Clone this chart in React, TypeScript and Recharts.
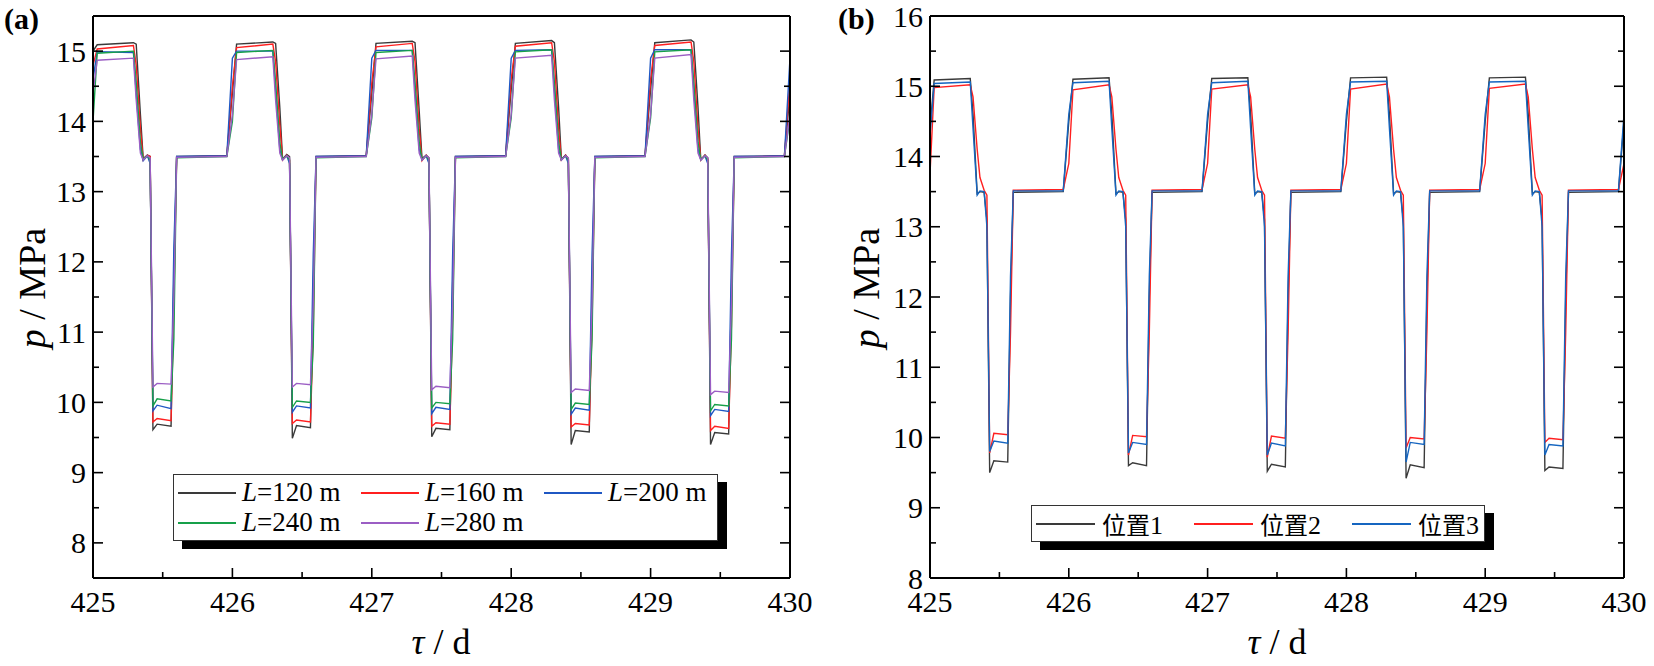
import React from 'react';
import { LineChart, Line, XAxis, YAxis } from 'recharts';

// time grid shared by both panels (days)
const TIME = [
  425.00, 425.03, 425.29, 425.31, 425.34, 425.36, 425.39, 425.41, 425.43, 425.46, 425.56, 425.58, 425.60, 425.96,
  426.00, 426.03, 426.29, 426.31, 426.34, 426.36, 426.39, 426.41, 426.43, 426.46, 426.56, 426.58, 426.60, 426.96,
  427.00, 427.03, 427.29, 427.31, 427.34, 427.36, 427.39, 427.41, 427.43, 427.46, 427.56, 427.58, 427.60, 427.96,
  428.00, 428.03, 428.29, 428.31, 428.34, 428.36, 428.39, 428.41, 428.43, 428.46, 428.56, 428.58, 428.60, 428.96,
  429.00, 429.03, 429.29, 429.31, 429.34, 429.36, 429.39, 429.41, 429.43, 429.46, 429.56, 429.58, 429.60, 429.96,
  430.00,
];

// panel (a): pressure for different lengths L
const L120 = [
  15.00, 15.09, 15.12, 15.10, 14.10, 13.47, 13.52, 13.50, 9.61, 9.69, 9.66, 11.80, 13.50, 13.51,
  14.40, 15.10, 15.13, 15.11, 14.20, 13.46, 13.53, 13.50, 9.49, 9.67, 9.64, 11.60, 13.50, 13.51,
  14.40, 15.11, 15.14, 15.12, 14.15, 13.47, 13.52, 13.48, 9.51, 9.63, 9.61, 11.70, 13.50, 13.51,
  14.45, 15.11, 15.15, 15.12, 14.20, 13.46, 13.52, 13.47, 9.40, 9.60, 9.58, 11.60, 13.50, 13.51,
  14.45, 15.12, 15.16, 15.13, 14.20, 13.45, 13.52, 13.48, 9.40, 9.57, 9.55, 11.60, 13.50, 13.51,
  14.40,
];
const L160 = [
  14.80, 15.03, 15.08, 14.80, 13.90, 13.45, 13.52, 13.50, 9.72, 9.77, 9.74, 11.40, 13.49, 13.51,
  14.50, 15.05, 15.10, 14.85, 13.95, 13.45, 13.52, 13.45, 9.70, 9.75, 9.72, 11.00, 13.49, 13.51,
  14.55, 15.06, 15.11, 14.85, 13.90, 13.44, 13.52, 13.46, 9.66, 9.71, 9.69, 11.20, 13.49, 13.51,
  14.60, 15.07, 15.12, 14.85, 13.90, 13.45, 13.52, 13.46, 9.65, 9.70, 9.68, 11.10, 13.49, 13.51,
  14.60, 15.08, 15.13, 14.85, 13.90, 13.45, 13.52, 13.46, 9.60, 9.66, 9.63, 11.10, 13.49, 13.51,
  14.60,
];
const L200 = [
  14.60, 14.99, 14.98, 14.40, 13.60, 13.44, 13.51, 13.40, 9.88, 9.96, 9.91, 12.20, 13.50, 13.51,
  14.90, 15.00, 15.00, 14.45, 13.60, 13.45, 13.51, 13.40, 9.86, 9.95, 9.92, 12.10, 13.50, 13.51,
  14.90, 15.01, 15.01, 14.45, 13.60, 13.45, 13.51, 13.40, 9.84, 9.93, 9.90, 12.10, 13.50, 13.51,
  14.90, 15.01, 15.02, 14.45, 13.60, 13.45, 13.51, 13.40, 9.83, 9.92, 9.89, 12.10, 13.50, 13.51,
  14.90, 15.02, 15.02, 14.45, 13.60, 13.45, 13.51, 13.40, 9.81, 9.90, 9.87, 12.10, 13.50, 13.51,
  14.90,
];
const L240 = [
  14.00, 14.97, 15.00, 14.55, 13.70, 13.46, 13.51, 13.45, 9.95, 10.05, 10.02, 10.90, 13.48, 13.50,
  14.00, 14.98, 15.01, 14.55, 13.70, 13.46, 13.51, 13.45, 9.93, 10.02, 10.00, 10.80, 13.48, 13.50,
  14.05, 14.98, 15.01, 14.55, 13.70, 13.46, 13.51, 13.45, 9.92, 10.00, 9.98, 10.90, 13.48, 13.50,
  14.05, 14.99, 15.02, 14.55, 13.70, 13.46, 13.51, 13.45, 9.90, 9.99, 9.97, 10.90, 13.48, 13.50,
  14.05, 14.99, 15.02, 14.55, 13.70, 13.46, 13.51, 13.45, 9.88, 9.97, 9.95, 10.90, 13.48, 13.50,
  14.05,
];
const L280 = [
  14.40, 14.87, 14.90, 14.30, 13.55, 13.45, 13.51, 13.48, 10.22, 10.27, 10.26, 11.50, 13.49, 13.50,
  14.10, 14.88, 14.92, 14.30, 13.55, 13.45, 13.51, 13.48, 10.22, 10.27, 10.25, 11.40, 13.49, 13.50,
  14.10, 14.89, 14.93, 14.30, 13.55, 13.45, 13.51, 13.48, 10.18, 10.23, 10.21, 11.40, 13.49, 13.50,
  14.10, 14.90, 14.94, 14.30, 13.55, 13.45, 13.51, 13.48, 10.14, 10.19, 10.17, 11.40, 13.49, 13.50,
  14.10, 14.90, 14.95, 14.30, 13.55, 13.45, 13.51, 13.48, 10.11, 10.16, 10.14, 11.40, 13.49, 13.50,
  14.10,
];

// panel (b): pressure at three positions
const POS1 = [
  14.40, 15.09, 15.11, 14.60, 13.47, 13.50, 13.49, 13.10, 9.50, 9.67, 9.65, 12.00, 13.49, 13.50,
  14.50, 15.10, 15.12, 14.60, 13.47, 13.50, 13.49, 13.10, 9.60, 9.64, 9.60, 12.00, 13.49, 13.50,
  14.50, 15.11, 15.12, 14.60, 13.47, 13.50, 13.49, 13.10, 9.52, 9.62, 9.58, 12.00, 13.49, 13.50,
  14.50, 15.12, 15.13, 14.60, 13.47, 13.50, 13.49, 13.10, 9.42, 9.61, 9.57, 12.00, 13.49, 13.50,
  14.50, 15.12, 15.13, 14.60, 13.47, 13.50, 13.49, 13.10, 9.53, 9.58, 9.56, 12.00, 13.49, 13.50,
  14.50,
];
const POS2 = [
  13.75, 14.98, 15.02, 14.85, 14.10, 13.70, 13.52, 13.45, 9.78, 10.06, 10.04, 11.50, 13.52, 13.53,
  13.90, 14.95, 15.02, 14.85, 14.10, 13.70, 13.52, 13.45, 9.75, 10.03, 10.01, 11.50, 13.52, 13.53,
  13.90, 14.96, 15.02, 14.85, 14.10, 13.70, 13.52, 13.45, 9.72, 10.02, 9.99, 11.50, 13.52, 13.53,
  13.90, 14.96, 15.03, 14.85, 14.10, 13.70, 13.52, 13.45, 9.85, 10.00, 9.98, 11.50, 13.52, 13.53,
  13.90, 14.97, 15.03, 14.85, 14.10, 13.70, 13.52, 13.45, 9.93, 9.99, 9.97, 11.50, 13.52, 13.53,
  13.90,
];
const POS3 = [
  14.30, 15.04, 15.06, 14.40, 13.45, 13.51, 13.50, 13.00, 9.80, 9.95, 9.92, 12.30, 13.51, 13.51,
  14.60, 15.05, 15.07, 14.40, 13.45, 13.51, 13.50, 13.00, 9.78, 9.93, 9.90, 12.30, 13.51, 13.51,
  14.60, 15.05, 15.07, 14.40, 13.45, 13.51, 13.50, 13.00, 9.75, 9.92, 9.88, 12.30, 13.51, 13.51,
  14.60, 15.06, 15.07, 14.40, 13.45, 13.51, 13.50, 13.00, 9.65, 9.93, 9.90, 12.30, 13.51, 13.51,
  14.60, 15.06, 15.07, 14.40, 13.45, 13.51, 13.50, 13.00, 9.75, 9.90, 9.88, 12.30, 13.51, 13.51,
  14.60,
];

const X_TICKS = [425, 425.5, 426, 426.5, 427, 427.5, 428, 428.5, 429, 429.5, 430];
const Y_TICKS_A = [8, 8.5, 9, 9.5, 10, 10.5, 11, 11.5, 12, 12.5, 13, 13.5, 14, 14.5, 15];
const Y_TICKS_B = [8, 8.5, 9, 9.5, 10, 10.5, 11, 11.5, 12, 12.5, 13, 13.5, 14, 14.5, 15, 15.5, 16];

const SERIES_A = [
  { key: 'l120', label: '120', color: '#3a3a3a', values: L120 },
  { key: 'l160', label: '160', color: '#ff1f1f', values: L160 },
  { key: 'l200', label: '200', color: '#1f57c3', values: L200 },
  { key: 'l240', label: '240', color: '#17a04a', values: L240 },
  { key: 'l280', label: '280', color: '#9b5ec4', values: L280 },
];
const SERIES_B = [
  { key: 'p1', label: '位置1', color: '#3a3a3a', values: POS1 },
  { key: 'p2', label: '位置2', color: '#ff1f1f', values: POS2 },
  { key: 'p3', label: '位置3', color: '#1565c0', values: POS3 },
];

const tableA = TIME.map((t, i) => {
  const row: Record<string, number> = { t };
  SERIES_A.forEach((s) => (row[s.key] = s.values[i]));
  return row;
});
const tableB = TIME.map((t, i) => {
  const row: Record<string, number> = { t };
  SERIES_B.forEach((s) => (row[s.key] = s.values[i]));
  return row;
});

const SERIF = '"Liberation Serif", "Times New Roman", serif';
const TICK_FONT = 30;
const MAJOR = 10;
const MINOR = 6;
const isMajor = (v: number) => Number.isInteger(v);
const tickText = { fontFamily: SERIF, fontSize: TICK_FONT };

// ticks point inward on every side of the box
const BottomTick = (props: any) => {
  const { x, y, payload } = props;
  const base = y - 13;
  const major = isMajor(payload.value);
  return (
    <g>
      <line x1={x} x2={x} y1={base} y2={base - (major ? MAJOR : MINOR)} stroke="#000" strokeWidth={1.6} />
      {major && (
        <text x={x} y={y} dy="0.71em" textAnchor="middle" style={tickText} fill="#000">
          {payload.value}
        </text>
      )}
    </g>
  );
};

const TopTick = (props: any) => {
  const { x, y, payload } = props;
  const major = isMajor(payload.value);
  return <line x1={x} x2={x} y1={y} y2={y + (major ? MAJOR : MINOR)} stroke="#000" strokeWidth={1.6} />;
};

const LeftTick = (props: any) => {
  const { x, y, payload } = props;
  const ax = x + 7;
  const major = isMajor(payload.value);
  return (
    <g>
      <line x1={ax} x2={ax + (major ? MAJOR : MINOR)} y1={y} y2={y} stroke="#000" strokeWidth={1.6} />
      {major && (
        <text x={x} y={y} dy="0.35em" textAnchor="end" style={tickText} fill="#000">
          {payload.value}
        </text>
      )}
    </g>
  );
};

const RightTick = (props: any) => {
  const { x, y, payload } = props;
  const major = isMajor(payload.value);
  return <line x1={x} x2={x - (major ? MAJOR : MINOR)} y1={y} y2={y} stroke="#000" strokeWidth={1.6} />;
};

const axisLine = { stroke: '#000', strokeWidth: 2 };

const Panel = ({ data, series, yDomain, yTicks, yWidth, width, right }: any) => (
  <LineChart width={width} height={666} data={data} margin={{ top: 15, right, bottom: 0, left: 0 }}>
    <XAxis
      dataKey="t"
      type="number"
      domain={[425, 430]}
      ticks={X_TICKS}
      interval={0}
      height={88}
      tickSize={0}
      tickMargin={13}
      tick={BottomTick}
      tickLine={false}
      axisLine={axisLine}
      allowDataOverflow
    />
    <XAxis
      xAxisId="top"
      orientation="top"
      type="number"
      domain={[425, 430]}
      ticks={X_TICKS}
      interval={0}
      height={1}
      tickSize={0}
      tickMargin={0}
      tick={TopTick}
      tickLine={false}
      axisLine={axisLine}
      allowDataOverflow
    />
    <YAxis
      type="number"
      domain={yDomain}
      ticks={yTicks}
      interval={0}
      width={yWidth}
      tickSize={0}
      tickMargin={7}
      tick={LeftTick}
      tickLine={false}
      axisLine={axisLine}
      allowDataOverflow
    />
    <YAxis
      yAxisId="right"
      orientation="right"
      type="number"
      domain={yDomain}
      ticks={yTicks}
      interval={0}
      width={10}
      tickSize={0}
      tickMargin={0}
      tick={RightTick}
      tickLine={false}
      axisLine={axisLine}
      allowDataOverflow
    />
    {series.map((s: any) => (
      <Line
        key={s.key}
        type="linear"
        dataKey={s.key}
        stroke={s.color}
        strokeWidth={1.4}
        dot={false}
        activeDot={false}
        isAnimationActive={false}
      />
    ))}
  </LineChart>
);

const abs = (left: number, top: number, extra: React.CSSProperties = {}): React.CSSProperties => ({
  position: 'absolute',
  left,
  top,
  ...extra,
});

const LegendEntry = ({ left, top, color, lineW, textOffset, fontSize, children }: any) => (
  <div style={abs(left, top, { height: 0 })}>
    <div style={abs(0, -0.7, { width: lineW, height: 1.4, background: color })} />
    <div
      style={abs(textOffset, -fontSize * 0.58, {
        fontFamily: SERIF,
        fontSize,
        lineHeight: `${fontSize * 1.15}px`,
        whiteSpace: 'nowrap',
        color: '#000',
      })}
    >
      {children}
    </div>
  </div>
);

const legendBox: React.CSSProperties = {
  background: '#fff',
  border: '1px solid #333',
  boxShadow: '9px 8px 0 #000',
  boxSizing: 'border-box',
};

export default function App() {
  return (
    <div style={{ position: 'relative', width: 1654, height: 666, background: '#fff', overflow: 'hidden' }}>
      <style>{'body{margin:0}'}</style>

      <div style={abs(0, 0)}>
        <Panel data={tableA} series={SERIES_A} yDomain={[7.5, 15.5]} yTicks={Y_TICKS_A} yWidth={93} width={827} right={27} />
      </div>
      <div style={abs(827, 0)}>
        <Panel data={tableB} series={SERIES_B} yDomain={[8, 16]} yTicks={Y_TICKS_B} yWidth={103} width={827} right={20} />
      </div>

      {/* panel letters and axis titles */}
      <div style={abs(4, 2, { fontFamily: SERIF, fontSize: 30, fontWeight: 'bold' })}>(a)</div>
      <div style={abs(838, 2, { fontFamily: SERIF, fontSize: 30, fontWeight: 'bold' })}>(b)</div>

      {[32, 866].map((cx) => (
        <div
          key={cx}
          style={abs(cx - 100, 288 - 22, {
            width: 200,
            height: 44,
            lineHeight: '44px',
            textAlign: 'center',
            transform: 'rotate(-90deg)',
            fontFamily: SERIF,
            fontSize: 38,
            whiteSpace: 'nowrap',
          })}
        >
          <i>p</i> / MPa
        </div>
      ))}
      {[441, 1277].map((cx) => (
        <div
          key={cx}
          style={abs(cx - 100, 620, {
            width: 200,
            textAlign: 'center',
            fontFamily: SERIF,
            fontSize: 36,
            lineHeight: '44px',
            whiteSpace: 'nowrap',
          })}
        >
          <i>τ</i> / d
        </div>
      ))}

      {/* legend (a) */}
      <div style={abs(173, 474, { ...legendBox, width: 545, height: 67 })}>
        {SERIES_A.map((s, i) => (
          <LegendEntry
            key={s.key}
            left={4 + (i % 3) * 183}
            top={i < 3 ? 18 : 48}
            color={s.color}
            lineW={58}
            textOffset={64}
            fontSize={27}
          >
            <i>L</i>={s.label} m
          </LegendEntry>
        ))}
      </div>

      {/* legend (b) */}
      <div style={abs(1031, 505, { ...legendBox, width: 454, height: 37 })}>
        {SERIES_B.map((s, i) => (
          <LegendEntry
            key={s.key}
            left={4 + i * 158}
            top={18}
            color={s.color}
            lineW={59}
            textOffset={66}
            fontSize={26}
          >
            <span style={{ fontFamily: '"Noto Sans CJK SC", sans-serif', fontSize: 24 }}>{s.label.slice(0, 2)}</span>
            {s.label.slice(2)}
          </LegendEntry>
        ))}
      </div>
    </div>
  );
}
